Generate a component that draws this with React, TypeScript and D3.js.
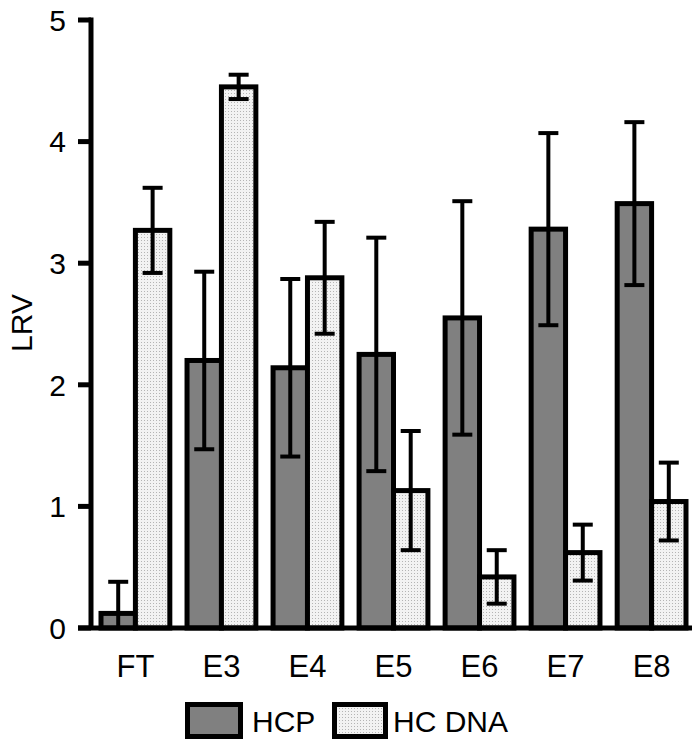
import React, { useEffect, useRef } from 'react';
import * as d3 from 'd3';

const categories = ['FT', 'E3', 'E4', 'E5', 'E6', 'E7', 'E8'];
const hcp = [0.12, 2.2, 2.14, 2.25, 2.55, 3.28, 3.49];
const hcpErr = [0.26, 0.73, 0.73, 0.96, 0.96, 0.79, 0.67];
const dna = [3.27, 4.45, 2.88, 1.13, 0.42, 0.62, 1.04];
const dnaErr = [0.35, 0.1, 0.46, 0.49, 0.22, 0.23, 0.32];
const yTicks = [0, 1, 2, 3, 4, 5];

export default function App() {
  const ref = useRef<SVGSVGElement>(null);

  useEffect(() => {
    const svg = d3.select(ref.current);
    svg.selectAll('*').remove();

    const font = 'Liberation Sans, Arial, sans-serif';
    const y = d3.scaleLinear().domain([0, 5]).range([628, 20]);
    const x = d3.scaleBand().domain(categories).range([101, 686]).paddingInner(0.2).paddingOuter(0);
    const sub = d3.scaleBand().domain(['hcp', 'dna']).range([0, x.bandwidth()]);

    const defs = svg.append('defs');
    const pat = defs.append('pattern')
      .attr('id', 'dots')
      .attr('width', 3)
      .attr('height', 3)
      .attr('patternUnits', 'userSpaceOnUse');
    pat.append('rect').attr('width', 3).attr('height', 3).attr('fill', '#f2f2f2');
    pat.append('rect').attr('width', 1).attr('height', 1).attr('fill', '#b4b4b4');

    const g = svg.append('g');

    const series = [
      { key: 'hcp', values: hcp, err: hcpErr, fill: '#808080' },
      { key: 'dna', values: dna, err: dnaErr, fill: 'url(#dots)' },
    ];

    series.forEach(s => {
      g.selectAll(`rect.${s.key}`)
        .data(categories)
        .enter()
        .append('rect')
        .attr('class', s.key)
        .attr('x', d => x(d)! + sub(s.key)!)
        .attr('y', (d, i) => y(s.values[i]))
        .attr('width', sub.bandwidth())
        .attr('height', (d, i) => y(0) - y(s.values[i]))
        .attr('fill', s.fill)
        .attr('stroke', '#000')
        .attr('stroke-width', 5);
    });

    series.forEach(s => {
      categories.forEach((c, i) => {
        const cx = x(c)! + sub(s.key)! + sub.bandwidth() / 2;
        const lo = Math.max(0, s.values[i] - s.err[i]);
        const hi = s.values[i] + s.err[i];
        const eg = g.append('g').attr('stroke', '#000').attr('stroke-width', 4);
        eg.append('line').attr('x1', cx).attr('x2', cx).attr('y1', y(lo)).attr('y2', y(hi));
        eg.append('line').attr('x1', cx - 10).attr('x2', cx + 10).attr('y1', y(hi)).attr('y2', y(hi));
        if (s.values[i] - s.err[i] > 0) {
          eg.append('line').attr('x1', cx - 10).attr('x2', cx + 10).attr('y1', y(lo)).attr('y2', y(lo));
        }
      });
    });

    // y axis
    const yAxis = svg.append('g').attr('transform', 'translate(91,0)');
    yAxis.append('line').attr('x1', 0).attr('x2', 0).attr('y1', y(5) - 2.5).attr('y2', y(0))
      .attr('stroke', '#000').attr('stroke-width', 5);
    yTicks.forEach(t => {
      yAxis.append('line').attr('x1', -13).attr('x2', 0).attr('y1', y(t)).attr('y2', y(t))
        .attr('stroke', '#000').attr('stroke-width', 5);
      yAxis.append('text').attr('x', -25).attr('y', y(t)).attr('dy', '0.36em')
        .attr('text-anchor', 'end').attr('font-family', font).attr('font-size', 30).text(t);
    });

    // x axis
    svg.append('line').attr('x1', 78).attr('x2', 697).attr('y1', y(0)).attr('y2', y(0))
      .attr('stroke', '#000').attr('stroke-width', 5);
    categories.forEach(c => {
      svg.append('text').attr('x', x(c)! + x.bandwidth() / 2).attr('y', 677)
        .attr('text-anchor', 'middle').attr('font-family', font).attr('font-size', 31).text(c);
    });

    svg.append('text').attr('transform', `translate(32,${y(2.5) - 1}) rotate(-90)`)
      .attr('text-anchor', 'middle').attr('font-family', font).attr('font-size', 30).text('LRV');

    // legend
    const leg = svg.append('g');
    leg.append('rect').attr('x', 187.5).attr('y', 704.5).attr('width', 53).attr('height', 32)
      .attr('fill', '#808080').attr('stroke', '#000').attr('stroke-width', 5);
    leg.append('text').attr('x', 252).attr('y', 732).attr('font-family', font).attr('font-size', 30).text('HCP');
    leg.append('rect').attr('x', 334.5).attr('y', 704.5).attr('width', 51).attr('height', 32)
      .attr('fill', 'url(#dots)').attr('stroke', '#000').attr('stroke-width', 5);
    leg.append('text').attr('x', 393).attr('y', 732).attr('font-family', font).attr('font-size', 30).text('HC DNA');
  }, []);

  return <svg ref={ref} width={700} height={747} style={{ display: 'block', margin: -8 }} />;
}
